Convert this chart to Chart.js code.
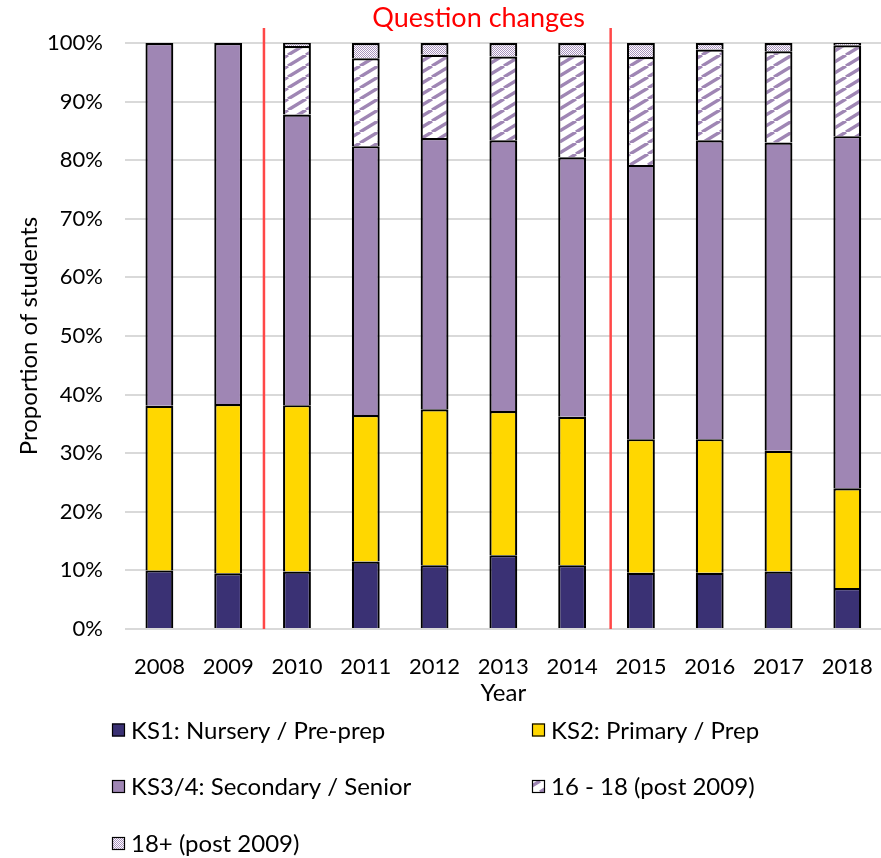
<!DOCTYPE html>
<html>
<head>
<meta charset="utf-8">
<script src="https://cdn.jsdelivr.net/npm/chart.js@4"></script>
<style>
  html, body { margin: 0; padding: 0; background: #fff; overflow: hidden; }
  #wrap { width: 890px; height: 858px; }
</style>
</head>
<body>
<div id="wrap"><canvas id="schoolChart" width="890" height="858"></canvas></div>
<script>
/* ===Data=== values in % of students */
const years = ['2008', '2009', '2010', '2011', '2012', '2013', '2014', '2015', '2016', '2017', '2018'];
const seriesNames = ['KS1: Nursery / Pre-prep', 'KS2: Primary / Prep', 'KS3/4: Secondary / Senior', '16 - 18 (post 2009)', '18+ (post 2009)'];
const ks1 = [10.0, 9.5, 9.8, 11.5, 10.9, 12.6, 10.9, 9.6, 9.6, 9.8, 7.0];
const ks2 = [28.1, 28.9, 28.4, 25.0, 26.6, 24.6, 25.3, 22.8, 22.8, 20.6, 17.0];
const ks34 = [61.9, 61.6, 49.6, 45.9, 46.3, 46.2, 44.3, 46.8, 51.0, 52.6, 60.1];
const post16 = [null, null, 11.7, 15.0, 14.2, 14.3, 17.4, 18.4, 15.5, 15.6, 15.5];
const post18 = [null, null, 0.5, 2.6, 2.0, 2.3, 2.1, 2.4, 1.1, 1.4, 0.4];
const yTicks = [0, 10, 20, 30, 40, 50, 60, 70, 80, 90, 100];

// where the question wording changed (between categories)
const changePoints = [1.52, 6.56];
const changeLabel = 'Question changes';

const FONT = 'Lato, "Open Sans", sans-serif';

/* Fill patterns */
function hatchPattern() {
    const c = document.createElement('canvas');
    c.width = 18; c.height = 11;
    const g = c.getContext('2d');
    g.fillStyle = '#ffffff';
    g.fillRect(0, 0, 18, 11);
    g.strokeStyle = '#9F86B4';
    g.lineWidth = 3.4;
    for (const dx of [-18, 0, 18]) {
        g.beginPath();
        g.moveTo(dx, 11);
        g.lineTo(dx + 18, 0);
        g.stroke();
    }
    return g.createPattern(c, 'repeat');
}

function dotPattern() {
    const c = document.createElement('canvas');
    c.width = 2; c.height = 2;
    const g = c.getContext('2d');
    g.fillStyle = '#ffffff';
    g.fillRect(0, 0, 2, 2);
    g.fillStyle = '#A993BE';
    g.fillRect(0, 0, 1, 1);
    g.fillRect(1, 1, 1, 1);
    return g.createPattern(c, 'repeat');
}

const fills = ['#3A3174', '#FFD700', '#9F86B4', hatchPattern(), dotPattern()];
const values = [ks1, ks2, ks34, post16, post18];

/* Red divider lines + label */
const dividerPlugin = {
    id: 'dividers',
    afterDatasetsDraw(chart) {
        const ctx = chart.ctx;
        const x = chart.scales.x;
        const area = chart.chartArea;
        ctx.save();
        ctx.strokeStyle = '#FF4747';
        ctx.lineWidth = 2.5;
        changePoints.forEach((p) => {
            const px = x.getPixelForValue(p);
            ctx.beginPath();
            ctx.moveTo(px, 28);
            ctx.lineTo(px, area.bottom);
            ctx.stroke();
        });
        ctx.fillStyle = '#FF0000';
        ctx.font = '27px ' + FONT;
        ctx.textAlign = 'center';
        ctx.textBaseline = 'alphabetic';
        ctx.fillText(changeLabel, x.getPixelForValue(4.64), 27);
        ctx.restore();
    }
};

/* Legend in two columns, drawn under the axis */
const legendPlugin = {
    id: 'gridLegend',
    afterDraw(chart) {
        const ctx = chart.ctx;
        const cols = [112, 532];
        const rows = [730, 786.5, 843.5];
        ctx.save();
        ctx.font = '24px ' + FONT;
        ctx.textBaseline = 'middle';
        ctx.textAlign = 'left';
        chart.data.datasets.forEach((ds, i) => {
            const bx = cols[i % 2];
            const by = rows[Math.floor(i / 2)];
            ctx.fillStyle = ds.backgroundColor;
            ctx.fillRect(bx, by - 6.5, 13, 13);
            ctx.strokeStyle = '#000';
            ctx.lineWidth = 1.2;
            ctx.strokeRect(bx + 0.5, by - 6, 12, 12);
            ctx.fillStyle = '#000';
            ctx.fillText(ds.label, bx + 19, by + 1);
        });
        ctx.restore();
    }
};

/* Stacked bar chart */
const ctx = document.getElementById('schoolChart');
new Chart(ctx, {
    type: 'bar',
    data: {
        labels: years,
        datasets: seriesNames.map((name, i) => ({
            label: name,
            data: values[i],
            backgroundColor: fills[i],
            borderColor: '#000000',
            borderWidth: 2.2,
            categoryPercentage: 1,
            barPercentage: 0.405
        }))
    },
    options: {
        responsive: false,
        animation: false,
        layout: {
            padding: { top: 43, right: 4, bottom: 149, left: 0 }
        },
        plugins: {
            legend: { display: false },
            tooltip: { enabled: false }
        },
        scales: {
            x: {
                stacked: true,
                grid: { display: false },
                border: { display: false },
                ticks: {
                    color: '#000',
                    padding: 17,
                    maxRotation: 0,
                    font: { family: FONT, size: 22 }
                },
                title: {
                    display: true,
                    text: 'Year',
                    color: '#000',
                    padding: { top: 0, bottom: 1 },
                    font: { family: FONT, size: 24 }
                },
                afterFit: (scale) => { scale.height = 80; }
            },
            y: {
                stacked: true,
                min: 0,
                max: 100,
                afterBuildTicks: (scale) => { scale.ticks = yTicks.map((v) => ({ value: v })); },
                grid: { color: '#D9D9D9', lineWidth: 2, drawTicks: false },
                border: { display: false },
                ticks: {
                    color: '#000',
                    padding: 22,
                    font: { family: FONT, size: 22 },
                    callback: (v) => v + '%'
                },
                title: {
                    display: true,
                    text: 'Proportion of students',
                    color: '#000',
                    padding: { top: 15, bottom: 0 },
                    font: { family: FONT, size: 24 }
                },
                afterFit: (scale) => { scale.width = 125; }
            }
        }
    },
    plugins: [dividerPlugin, legendPlugin]
});
</script>
</body>
</html>
